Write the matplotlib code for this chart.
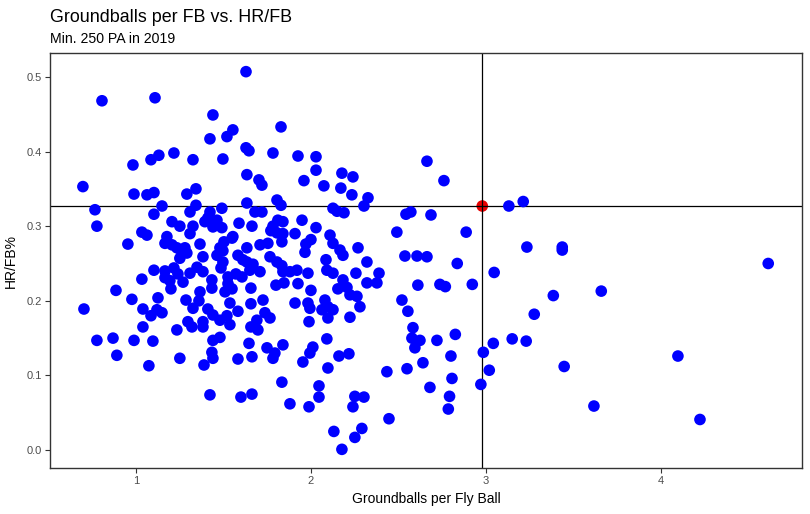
import matplotlib
matplotlib.use("Agg")
import matplotlib.pyplot as plt

plt.rcParams['font.family'] = ['Liberation Sans', 'DejaVu Sans']

title = "Groundballs per FB vs. HR/FB"
subtitle = "Min. 250 PA in 2019"
x_label = "Groundballs per Fly Ball"
y_label = "HR/FB%"
x_ticks = [1, 2, 3, 4]
y_ticks = [0.0, 0.1, 0.2, 0.3, 0.4, 0.5]

# Groundballs per fly ball for every hitter (blue points)
gb_fb = [
    0.697, 0.766, 0.777, 0.806, 0.703, 0.777, 0.869, 0.886, 0.891, 0.954, 0.983, 0.989, 0.989, 0.977,
    1.063, 1.103, 1.109, 1.086, 1.131, 1.149, 1.103, 1.034, 1.063, 1.034, 1.103, 1.126, 1.040, 1.086,
    1.120, 1.149, 1.040, 1.097, 1.074,
    1.217, 1.326, 1.291, 1.343, 1.343, 1.309, 1.206, 1.251, 1.326, 1.309, 1.177, 1.166, 1.206, 1.234,
    1.263, 1.280, 1.251, 1.291, 1.366, 1.383, 1.349, 1.383, 1.309, 1.269, 1.166, 1.217, 1.240, 1.166,
    1.194, 1.200, 1.366, 1.434, 1.434, 1.526, 1.571, 1.606, 1.286, 1.326, 1.360, 1.297, 1.320, 1.383,
    1.383, 1.234, 1.251, 1.389, 1.434, 1.440, 1.423,
    1.440, 1.554, 1.520, 1.423, 1.497, 1.491, 1.423, 1.411, 1.463, 1.394, 1.491, 1.440, 1.554, 1.589,
    1.663, 1.503, 1.549, 1.480, 1.463, 1.497, 1.497, 1.486, 1.583, 1.611, 1.634, 1.669, 1.651, 1.709,
    1.526, 1.509, 1.549, 1.537, 1.657, 1.657, 1.411, 1.440, 1.480, 1.520, 1.583, 1.537, 1.657, 1.440,
    1.480, 1.646, 1.583, 1.663, 1.600, 1.663,
    1.629, 1.629, 1.646, 1.634, 1.703, 1.720, 1.634, 1.783, 1.829, 1.926, 2.029, 2.029, 1.960, 1.806,
    1.829, 1.680, 1.720, 1.783, 1.811, 1.840, 1.771, 1.806, 1.840, 1.834, 1.949, 2.029, 1.909, 2.000,
    1.971, 1.966, 2.109, 2.126, 2.166, 2.183, 1.709, 1.754, 1.634, 1.766, 1.806, 1.834, 1.840, 1.880,
    1.920, 1.800, 1.846, 1.926, 1.983, 2.086, 2.091, 2.126, 2.000, 2.183, 2.154, 2.206, 2.223, 2.263,
    1.726, 1.909, 1.983, 1.994, 2.080, 2.063, 2.097, 2.126, 2.097, 2.280, 2.223, 2.520, 2.554, 1.737,
    1.766, 1.691, 1.697, 1.989, 2.583, 2.577, 2.623, 2.594, 2.720, 2.091, 1.749, 1.794, 1.840, 1.783,
    2.011, 1.994, 2.160, 2.217, 1.954, 2.097, 2.434, 2.549, 2.640, 2.680, 1.834, 2.046, 2.046, 1.880,
    1.989, 2.251, 2.303, 2.240, 2.446, 2.131, 2.251, 2.291, 2.177,
    2.177, 2.240, 2.171, 2.234, 2.326, 2.303, 2.074, 2.126, 2.149, 2.189, 2.543, 2.571, 2.686, 2.663,
    2.491, 2.537, 2.606, 2.663, 2.269, 2.320, 2.389, 2.320, 2.377, 2.611, 2.257,
    2.760, 3.131, 3.213, 2.887, 3.234, 3.436, 3.436, 4.613, 2.836, 3.047, 2.737, 2.768, 2.922, 3.385,
    3.659, 3.276, 2.825, 3.042, 3.150, 3.230, 2.985, 2.800, 4.097, 3.447, 3.019, 2.806, 2.971, 2.792,
    2.785, 3.617, 4.223,
]

# HR/FB for every hitter (blue points)
hr_fb = [
    0.353, 0.322, 0.300, 0.468, 0.189, 0.147, 0.150, 0.214, 0.127, 0.276, 0.382, 0.343, 0.147, 0.202,
    0.342, 0.345, 0.472, 0.389, 0.395, 0.327, 0.316, 0.292, 0.288, 0.229, 0.241, 0.204, 0.189, 0.180,
    0.188, 0.184, 0.165, 0.146, 0.113,
    0.398, 0.389, 0.343, 0.350, 0.328, 0.319, 0.306, 0.300, 0.300, 0.290, 0.286, 0.277, 0.275, 0.271,
    0.265, 0.271, 0.257, 0.264, 0.276, 0.259, 0.245, 0.239, 0.237, 0.225, 0.240, 0.244, 0.236, 0.231,
    0.227, 0.216, 0.212, 0.228, 0.217, 0.232, 0.236, 0.232, 0.201, 0.190, 0.200, 0.172, 0.165, 0.172,
    0.165, 0.161, 0.123, 0.114, 0.131, 0.123, 0.074,
    0.449, 0.429, 0.420, 0.417, 0.390, 0.324, 0.319, 0.311, 0.308, 0.306, 0.298, 0.299, 0.286, 0.304,
    0.300, 0.279, 0.284, 0.271, 0.261, 0.267, 0.252, 0.244, 0.261, 0.255, 0.252, 0.249, 0.241, 0.239,
    0.223, 0.212, 0.216, 0.197, 0.217, 0.196, 0.189, 0.181, 0.174, 0.180, 0.186, 0.168, 0.165, 0.147,
    0.151, 0.143, 0.122, 0.125, 0.071, 0.075,
    0.507, 0.405, 0.401, 0.369, 0.362, 0.355, 0.331, 0.398, 0.433, 0.394, 0.393, 0.375, 0.361, 0.335,
    0.328, 0.319, 0.319, 0.300, 0.308, 0.306, 0.294, 0.291, 0.290, 0.279, 0.308, 0.298, 0.290, 0.282,
    0.276, 0.265, 0.288, 0.277, 0.268, 0.261, 0.275, 0.277, 0.271, 0.259, 0.252, 0.247, 0.239, 0.239,
    0.241, 0.221, 0.224, 0.223, 0.237, 0.255, 0.241, 0.237, 0.214, 0.228, 0.216, 0.218, 0.208, 0.206,
    0.201, 0.197, 0.197, 0.190, 0.201, 0.188, 0.192, 0.188, 0.177, 0.192, 0.178, 0.201, 0.186, 0.184,
    0.177, 0.174, 0.161, 0.172, 0.164, 0.150, 0.147, 0.137, 0.147, 0.149, 0.137, 0.130, 0.141, 0.123,
    0.138, 0.130, 0.126, 0.129, 0.118, 0.110, 0.105, 0.109, 0.117, 0.084, 0.091, 0.086, 0.071, 0.062,
    0.058, 0.072, 0.071, 0.058, 0.042, 0.025, 0.017, 0.029, 0.001,
    0.371, 0.366, 0.351, 0.342, 0.338, 0.327, 0.354, 0.324, 0.320, 0.318, 0.316, 0.319, 0.315, 0.387,
    0.292, 0.260, 0.260, 0.259, 0.271, 0.252, 0.237, 0.224, 0.224, 0.221, 0.237,
    0.361, 0.327, 0.333, 0.292, 0.272, 0.272, 0.268, 0.250, 0.250, 0.238, 0.222, 0.219, 0.222, 0.207,
    0.213, 0.182, 0.155, 0.143, 0.149, 0.146, 0.131, 0.126, 0.126, 0.112, 0.107, 0.096, 0.088, 0.072,
    0.055, 0.059, 0.041,
]

# Highlighted hitter (red point) and the reference lines through it
hl_gb_fb = [2.979]
hl_hr_fb = [0.327]

fig = plt.figure(figsize=(8.10, 5.14), dpi=100)
ax = fig.add_axes([50/810, (514-468)/514, (802-50)/810, (468-53)/514])

ax.scatter(hl_gb_fb, hl_hr_fb, s=70, color='#E80000', edgecolors='none', zorder=1)
ax.axhline(hl_hr_fb[0], color='black', lw=0.9, zorder=2)
ax.axvline(hl_gb_fb[0], color='black', lw=0.9, zorder=2)
ax.scatter(gb_fb, hr_fb, s=70, color='#0000FF', edgecolors='none', zorder=3)

ax.set_xlim(0.509, 4.806)
ax.set_ylim(-0.024, 0.532)
ax.set_xticks(x_ticks)
ax.set_xticklabels([str(t) for t in x_ticks])
ax.set_yticks(y_ticks)
ax.set_yticklabels([f"{t:.1f}" for t in y_ticks])
ax.tick_params(axis='both', colors='#333333', labelcolor='#4D4D4D', labelsize=8, length=3.6, width=0.8, pad=2.5)
for sp in ax.spines.values():
    sp.set_color('#333333')
    sp.set_linewidth(1.0)

ax.set_xlabel(x_label, fontsize=10, color='black', labelpad=4)
ax.set_ylabel(y_label, fontsize=10, color='black', labelpad=6)

fig.text(50/810, 1 - 22/514, title, fontsize=12.9, color='black', ha='left', va='baseline')
fig.text(50/810, 1 - 43/514, subtitle, fontsize=10.2, color='black', ha='left', va='baseline')

fig.savefig('out.png', dpi=100)
